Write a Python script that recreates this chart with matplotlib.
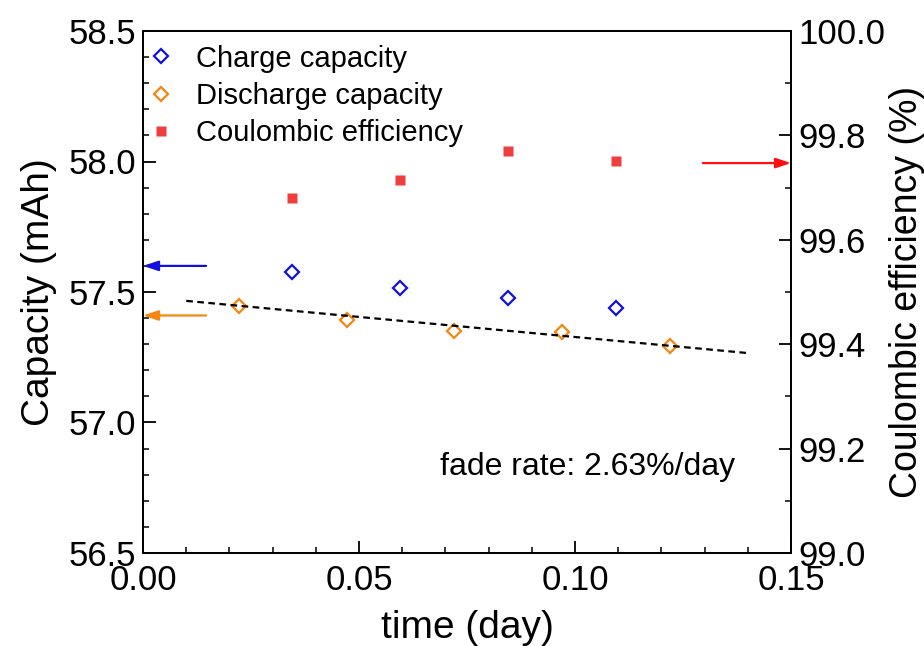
import matplotlib
matplotlib.use("Agg")
import matplotlib.pyplot as plt
from matplotlib.ticker import MultipleLocator, FormatStrFormatter

plt.rcParams["font.family"] = ["Liberation Sans", "DejaVu Sans"]

# charge / discharge capacity (mAh) and coulombic efficiency (%)
t_charge = [0.0345, 0.0595, 0.0845, 0.1095]
cap_charge = [57.577, 57.514, 57.478, 57.438]
t_discharge = [0.0221, 0.0472, 0.0720, 0.0970, 0.1220]
cap_discharge = [57.446, 57.393, 57.349, 57.346, 57.294]
ce = [99.680, 99.715, 99.771, 99.751]
# linear fit of discharge capacity
fit_t = [0.010, 0.140]
fit_cap = [57.466, 57.266]

blue = "#1010e0"
orange = "#f7860f"
red = "#ef3e3e"

fig = plt.figure(figsize=[9.24, 6.46], dpi=100)
ax = fig.add_axes([0.1548, 0.144, 0.7013, 0.808])
ax2 = ax.twinx()

h1, = ax.plot(t_charge, cap_charge, linestyle="none", marker="D", ms=6.8,
              mfc="none", mec=blue, mew=1.6, label="Charge capacity")
h2, = ax.plot(t_discharge, cap_discharge, linestyle="none", marker="D", ms=6.8,
              mfc="none", mec=orange, mew=1.6, label="Discharge capacity")
ax.plot(fit_t, fit_cap, color="black", lw=1.6, linestyle=(0, (3, 2)))
h3, = ax2.plot(t_charge, ce, linestyle="none", marker="s", ms=7.5,
               color=red, mec="none", label="Coulombic efficiency")

ax.set_xlim(0, 0.15)
ax.set_ylim(56.5, 58.5)
ax2.set_ylim(99.0, 100.0)

ax.xaxis.set_major_locator(MultipleLocator(0.05))
ax.xaxis.set_minor_locator(MultipleLocator(0.01))
ax.yaxis.set_major_locator(MultipleLocator(0.5))
ax.yaxis.set_minor_locator(MultipleLocator(0.1))
ax2.yaxis.set_major_locator(MultipleLocator(0.2))
ax2.yaxis.set_minor_locator(MultipleLocator(0.1))
ax.xaxis.set_major_formatter(FormatStrFormatter("%.2f"))
ax.yaxis.set_major_formatter(FormatStrFormatter("%.1f"))
ax2.yaxis.set_major_formatter(FormatStrFormatter("%.1f"))

for a in (ax, ax2):
    a.tick_params(which="major", direction="in", length=9, width=1.3, labelsize=25, pad=5)
    a.tick_params(which="minor", direction="in", length=4.5, width=1.1)
    for s in a.spines.values():
        s.set_linewidth(1.3)
ax.tick_params(axis="y", right=False)
ax.tick_params(axis="x", pad=8)

ax.set_xlabel("time (day)", fontsize=28, labelpad=9)
ax.set_ylabel("Capacity (mAh)", fontsize=28, labelpad=8)
ax2.set_ylabel("Coulombic efficiency (%)", fontsize=27, labelpad=3)

# arrows pointing at the matching axis
arrow = "-|>,head_length=0.6,head_width=0.2"
ax.annotate("", xy=(0, 57.6), xytext=(0.0146, 57.6),
            arrowprops=dict(arrowstyle=arrow, color=blue, lw=1.6, mutation_scale=15,
                            shrinkA=0, shrinkB=0))
ax.annotate("", xy=(0, 57.41), xytext=(0.0146, 57.41),
            arrowprops=dict(arrowstyle=arrow, color=orange, lw=1.6, mutation_scale=15,
                            shrinkA=0, shrinkB=0))
ax2.annotate("", xy=(0.15, 99.747), xytext=(0.1296, 99.747),
             arrowprops=dict(arrowstyle=arrow, color="#ff1010", lw=1.6, mutation_scale=15,
                             shrinkA=0, shrinkB=0))

ax.text(0.458, 0.165, "fade rate: 2.63%/day", transform=ax.transAxes,
        fontsize=23, va="center", ha="left")

ax.legend(handles=[h1, h2, h3], loc="upper left", bbox_to_anchor=(0.0, 0.985),
          frameon=False, fontsize=21, handlelength=0.8, handletextpad=0.8,
          labelspacing=0.32, borderaxespad=0, borderpad=0.2)

fig.savefig("out.png", dpi=100)
